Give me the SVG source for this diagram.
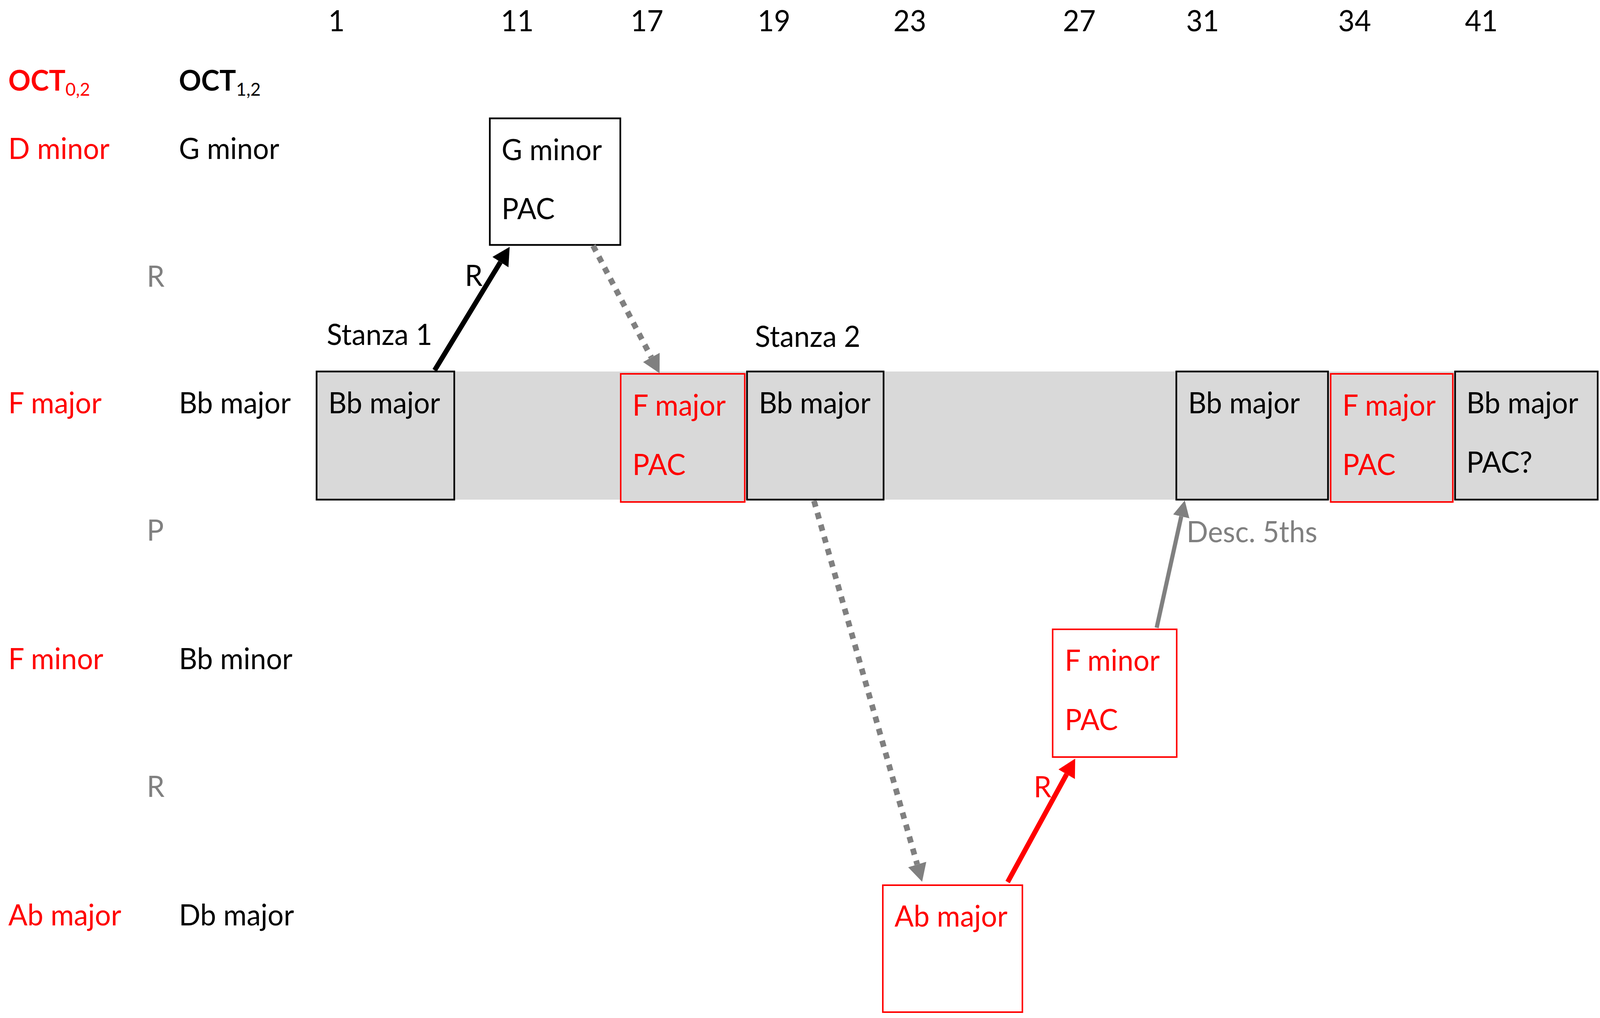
<svg xmlns="http://www.w3.org/2000/svg" width="4230" height="2606" viewBox="0 0 4230 2606">
<style>
text{font-family:Lato,"Liberation Sans",sans-serif;font-size:75px;fill:#000}
.red{fill:#ff0000}
.gray{fill:#808080}
.b{font-weight:bold;font-size:73px}
.sub{font-size:47px;font-weight:normal}
.bandbox{fill:#d9d9d9;stroke:#000;stroke-width:4.5}
.redbox{fill:#d9d9d9;stroke:#ff0000;stroke-width:4}
.wbox{fill:#fff;stroke:#000;stroke-width:4.5}
.wredbox{fill:#fff;stroke:#ff0000;stroke-width:4}
</style>
<defs>
<marker id="hk" markerUnits="userSpaceOnUse" viewBox="0 0 46 50" refX="0" refY="25" markerWidth="46" markerHeight="50" orient="auto"><path d="M0,0 L46,25 L0,50 z" fill="#000"/></marker>
<marker id="hr" markerUnits="userSpaceOnUse" viewBox="0 0 46 50" refX="0" refY="25" markerWidth="46" markerHeight="50" orient="auto"><path d="M0,0 L46,25 L0,50 z" fill="#ff0000"/></marker>
<marker id="hg" markerUnits="userSpaceOnUse" viewBox="0 0 46 50" refX="0" refY="25" markerWidth="46" markerHeight="50" orient="auto"><path d="M0,0 L46,25 L0,50 z" fill="#808080"/></marker>
<marker id="hg2" markerUnits="userSpaceOnUse" viewBox="0 0 42 44" refX="0" refY="22" markerWidth="42" markerHeight="44" orient="auto"><path d="M0,0 L42,22 L0,44 z" fill="#808080"/></marker>
</defs>
<rect width="4230" height="2606" fill="#fff"/>
<g id="diagram" transform="scale(0.9683 1)">

<g id="measures">
<text x="868" y="80">1</text>
<text x="1324" y="80">11</text>
<text x="1667" y="80">17</text>
<text x="2003" y="80">19</text>
<text x="2362" y="80">23</text>
<text x="2810" y="80">27</text>
<text x="3136" y="80">31</text>
<text x="3538" y="80">34</text>
<text x="3873" y="80">41</text>
</g>

<g id="row-labels">
<text x="22" y="232" class="red b">OCT<tspan class="sub" dy="13">0,2</tspan></text>
<text x="473" y="232" class="b">OCT<tspan class="sub" dy="13">1,2</tspan></text>
<text x="22" y="407" class="red">D minor</text>
<text x="473" y="407">G minor</text>
<text x="388" y="734" class="gray">R</text>
<text x="22" y="1058" class="red">F major</text>
<text x="473" y="1058">Bb major</text>
<text x="388" y="1384" class="gray">P</text>
<text x="22" y="1713" class="red">F minor</text>
<text x="473" y="1713">Bb minor</text>
<text x="388" y="2040" class="gray">R</text>
<text x="22" y="2369" class="red">Ab major</text>
<text x="473" y="2369">Db major</text>
</g>

<rect id="band" x="837" y="951" width="3388" height="328" fill="#d9d9d9"/>

<g id="stanza-labels">
<text x="864" y="883">Stanza 1</text>
<text x="1996" y="888">Stanza 2</text>
</g>

<g id="n-bb1"><rect class="bandbox" x="837" y="951" width="364" height="328"/><text x="868" y="1058">Bb major</text></g>
<g id="n-gmin"><rect class="wbox" x="1295" y="303" width="345" height="324"/><text x="1326" y="410">G minor</text><text x="1326" y="561">PAC</text></g>
<g id="n-fmaj1"><rect class="redbox" x="1641" y="957" width="328" height="328"/><text x="1672" y="1064" class="red">F major</text><text x="1672" y="1216" class="red">PAC</text></g>
<g id="n-bb2"><rect class="bandbox" x="1975" y="951" width="361" height="328"/><text x="2006" y="1058">Bb major</text></g>
<g id="n-abmaj"><rect class="wredbox" x="2334" y="2266" width="369" height="325"/><text x="2365" y="2372" class="red">Ab major</text></g>
<g id="n-fmin"><rect class="wredbox" x="2783" y="1611" width="328" height="327"/><text x="2815" y="1717" class="red">F minor</text><text x="2815" y="1869" class="red">PAC</text></g>
<g id="n-bb3"><rect class="bandbox" x="3110" y="951" width="401" height="328"/><text x="3141" y="1058">Bb major</text></g>
<g id="n-fmaj2"><rect class="redbox" x="3518" y="957" width="323" height="328"/><text x="3549" y="1064" class="red">F major</text><text x="3549" y="1216" class="red">PAC</text></g>
<g id="n-bb4"><rect class="bandbox" x="3847" y="951" width="377" height="328"/><text x="3877" y="1058">Bb major</text><text x="3877" y="1210">PAC?</text></g>

<g id="connectors" fill="none">
<line x1="1149" y1="948" x2="1323" y2="671" stroke="#000" stroke-width="13" marker-end="url(#hk)"/>
<text x="1229" y="732">R</text>
<line x1="1568" y1="629" x2="1722" y2="915" stroke="#808080" stroke-width="15" stroke-dasharray="16 16" marker-end="url(#hg)"/>
<line x1="2152" y1="1282" x2="2425" y2="2213" stroke="#808080" stroke-width="15" stroke-dasharray="16 16" marker-end="url(#hg)"/>
<line x1="2664" y1="2258" x2="2820" y2="1982" stroke="#ff0000" stroke-width="13" marker-end="url(#hr)"/>
<text x="2733" y="2041" class="red">R</text>
<line x1="3058" y1="1607" x2="3123" y2="1322" stroke="#808080" stroke-width="11" marker-end="url(#hg2)"/>
<text x="3137" y="1388" class="gray">Desc. 5ths</text>
</g>
</g>
</svg>
